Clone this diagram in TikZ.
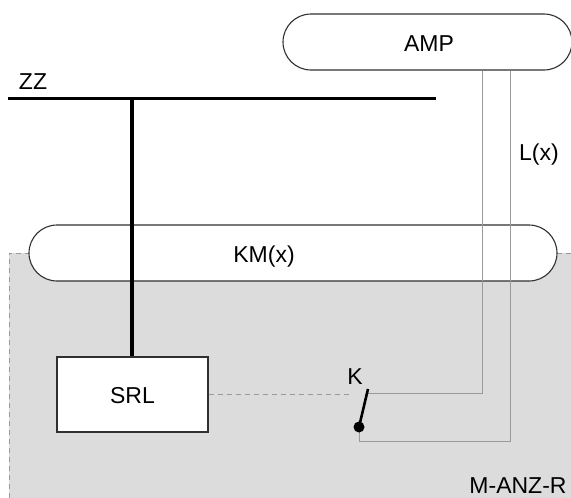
\documentclass[tikz,border=0pt]{standalone}
\usepackage{fontspec}
\setmainfont{Liberation Sans}
\definecolor{zone}{HTML}{DCDCDC}
\definecolor{wire}{HTML}{9A9A9A}
\definecolor{edge}{HTML}{303030}
\tikzset{
  lbl/.style={inner sep=0pt,anchor=base,font=\fontsize{23}{27}\selectfont,text=black},
  pill/.style={draw=edge,line width=1.1pt,fill=white,rounded corners=28pt,minimum height=56pt,inner sep=0pt},
  box/.style={draw=edge,line width=1.1pt,fill=white,inner sep=0pt},
  wirel/.style={draw=wire,line width=1pt},
  bus/.style={draw=black,line width=3.2pt},
  ctrl/.style={draw=wire,line width=1pt,dash pattern=on 5pt off 4pt},
  dotn/.style={circle,fill=black,inner sep=0pt,minimum size=11pt},
}
\begin{document}
\begin{tikzpicture}[x=1pt,y=-1pt]
\useasboundingbox (0,0) rectangle (571,498);
\clip (0,0) rectangle (571,498);
% shaded zone
\fill[zone] (9,253) rectangle (571,498);
\draw[ctrl] (9,498) -- (9,253) -- (30,253);
\draw[ctrl] (557,253) -- (571,253);
% pills and box
\node[pill,minimum width=289pt] (amp) at (427.5,42) {};
\node[lbl] (amplbl) at (429,51) {AMP};
\node[pill,minimum width=528pt] (km) at (293,253) {};
\node[lbl] (kmlbl) at (264,262) {KM(x)};
\node[box,minimum width=151pt,minimum height=75pt] (srl) at (132.5,394.5) {};
\node[lbl] (srllbl) at (132.5,403) {SRL};
% coordinates
\coordinate (zzl) at (8,98.5);
\coordinate (zzr) at (436,98.5);
\coordinate (zzt) at (132,98.5);
\coordinate (c1) at (482,393.5);
\coordinate (c1e) at (368,393.5);
\coordinate (c2) at (510,441);
\coordinate (c2e) at (359,441);
\coordinate (swt) at (368,389);
\coordinate (ctrle) at (350,394);
% wires
\draw[wirel] (amp.south -| c1) -- (c1) -- (c1e);
\draw[wirel] (amp.south -| c2) -- (c2) -- (c2e) -- (359,427);
\draw[ctrl] (srl.east |- ctrle) -- (ctrle);
\draw[bus] (zzl) -- (zzr);
\draw[bus] (zzt) -- (srl.north -| zzt);
\node[dotn] (pivot) at (359,427) {};
\draw[black,line width=2.6pt] (pivot.center) -- (swt);
% labels
\node[lbl] (zzlbl) at (33,89) {ZZ};
\node[lbl] (llbl) at (539,160) {L(x)};
\node[lbl] (klbl) at (355,384) {K};
\node[lbl] (mlbl) at (518,493) {M-ANZ-R};
\end{tikzpicture}
\end{document}
